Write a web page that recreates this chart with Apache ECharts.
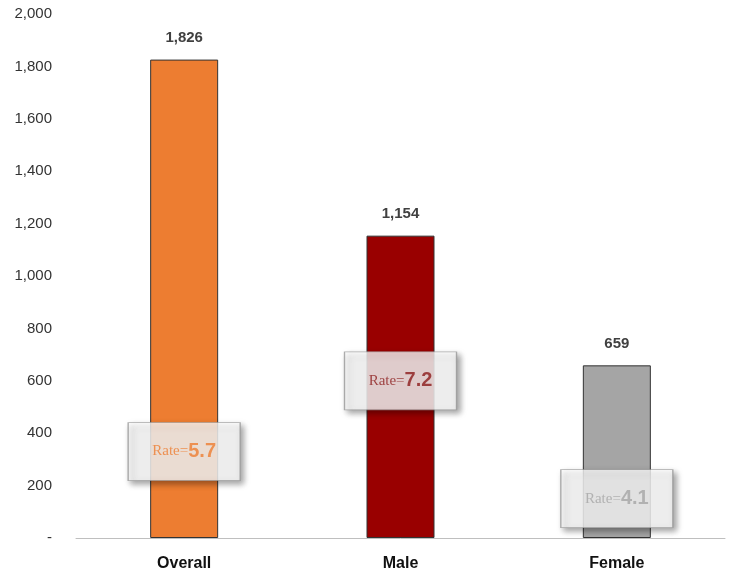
<!DOCTYPE html>
<html><head><meta charset="utf-8">
<script src="https://cdn.jsdelivr.net/npm/echarts@6/dist/echarts.min.js"></script>
<style>html,body{margin:0;padding:0;background:#fff}#c{width:737px;height:588px}</style>
</head><body><div id="c"></div>
<script>
const categories = ['Overall', 'Male', 'Female'];
const counts = [1826, 1154, 659];
const rates = [5.7, 7.2, 4.1];
const rateAnchor = [330, 600, 150];
const barColors = ['#ED7D31', '#990000', '#A5A5A5'];
const rateColors = ['#ED7D31', '#8B1A1A', '#A5A5A5'];

const chart = echarts.init(document.getElementById('c'));
chart.setOption({
  animation: false,
  grid: {left: 76, right: 12, top: 14, bottom: 50},
  xAxis: {
    type: 'category', data: categories,
    axisLine: {lineStyle: {color: '#bfbfbf'}}, axisTick: {show: false},
    axisLabel: {color: '#111', fontWeight: 'bold', fontSize: 16, margin: 18, fontFamily: 'Liberation Sans'}
  },
  yAxis: {
    type: 'value', min: 0, max: 2000, interval: 200,
    splitLine: {show: false},
    axisLabel: {color: '#333', fontSize: 15, margin: 24, fontFamily: 'Liberation Sans', align: 'right',
      formatter: v => v === 0 ? '-' : v.toLocaleString('en-US')}
  },
  series: [{
    type: 'bar', barWidth: 68,
    data: counts.map((v, i) => ({value: v, itemStyle: {color: barColors[i], borderColor: '#333', borderWidth: 1}})),
    label: {show: true, position: 'top', distance: 14, color: '#404040', fontWeight: 'bold', fontSize: 15,
      fontFamily: 'Liberation Sans', formatter: p => p.value.toLocaleString('en-US')}
  }, {
    type: 'scatter', symbol: 'rect', symbolSize: [112, 58], z: 5,
    data: rateAnchor.map((v, i) => ({
      value: [categories[i], v],
      itemStyle: {color: '#fff', borderColor: '#999', borderWidth: 1, shadowColor: 'rgba(0,0,0,0.45)', shadowBlur: 6, shadowOffsetX: 3, shadowOffsetY: 3},
      label: {show: true, position: 'inside', formatter: '{a|Rate=}{b|' + rates[i] + '}',
        rich: {a: {color: rateColors[i], fontSize: 15, fontFamily: 'Liberation Sans Narrow'},
               b: {color: rateColors[i], fontSize: 20, fontWeight: 'bold', fontFamily: 'Liberation Sans'}}}
    }))
  }]
});
</script></body></html>
